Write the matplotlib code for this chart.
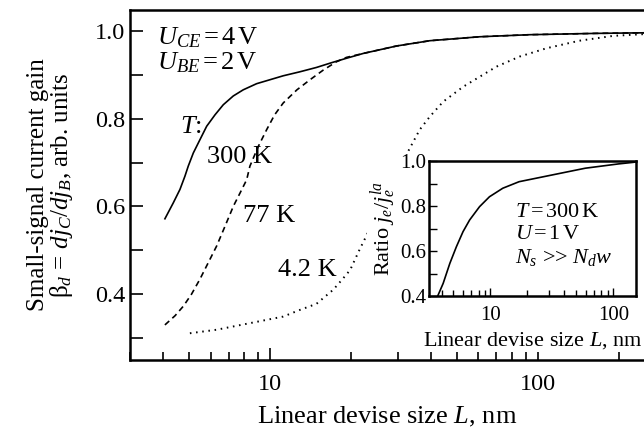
import matplotlib
matplotlib.use("Agg")
import matplotlib.pyplot as plt
from matplotlib.ticker import FixedLocator, NullFormatter, LogLocator, FormatStrFormatter
from matplotlib.patches import Rectangle

plt.rcParams["font.family"] = ["Liberation Serif", "DejaVu Serif"]
plt.rcParams["mathtext.fontset"] = "custom"
plt.rcParams["mathtext.rm"] = "Liberation Serif"
plt.rcParams["mathtext.it"] = "Liberation Serif:italic"
plt.rcParams["mathtext.bf"] = "Liberation Serif:bold"

# main plot data
L_300 = [4.05, 4.35, 4.61, 4.81, 4.95, 5.17, 5.47, 5.80, 6.23, 6.69, 7.29, 7.94,
         8.91, 9.99, 11.2, 12.9, 14.9, 17.0, 19.3, 22.3, 29.7, 39.5, 60.7, 93.3, 165, 249]
beta_300 = [0.572, 0.608, 0.639, 0.669, 0.692, 0.722, 0.752, 0.783, 0.809, 0.832, 0.852, 0.866,
            0.880, 0.889, 0.898, 0.907, 0.917, 0.928, 0.938, 0.949, 0.966, 0.978, 0.987, 0.9917, 0.9947, 0.996]

L_77 = [4.05, 4.42, 4.75, 5.09, 5.47, 5.88, 6.32, 6.79, 7.30, 7.73, 8.18, 8.41, 9.04,
        9.71, 10.4, 11.2, 12.6, 14.1, 15.8, 17.7, 19.3, 22.3, 29.7, 39.5, 60.7, 93.3, 165, 249]
beta_77 = [0.330, 0.351, 0.373, 0.400, 0.434, 0.472, 0.510, 0.555, 0.601, 0.631, 0.661, 0.692, 0.737,
           0.775, 0.809, 0.836, 0.866, 0.889, 0.911, 0.930, 0.940, 0.949, 0.966, 0.978, 0.987, 0.9917, 0.9947, 0.996]

L_4 = [5.02, 6.32, 8.41, 11.2, 12.9, 14.9, 17.2, 18.5, 19.9, 21.6, 32.8, 36.2, 39.5,
       44.3, 52.6, 60.7, 70.1, 85.6, 108, 143, 191, 249]
beta_4 = [0.311, 0.319, 0.334, 0.349, 0.364, 0.378, 0.410, 0.432, 0.455, 0.502, 0.726, 0.775, 0.805,
          0.839, 0.873, 0.896, 0.919, 0.942, 0.961, 0.978, 0.989, 0.993]

# inset data
L_in = [3.72, 4.12, 4.67, 5.28, 5.98, 6.77, 8.15, 9.81, 12.6, 17.1, 31.8, 59.2, 110, 145, 153]
ratio_in = [0.40, 0.456, 0.545, 0.619, 0.686, 0.738, 0.797, 0.841, 0.879, 0.908, 0.938, 0.968,
            0.987, 0.994, 0.996]

fig = plt.figure(figsize=(6.44, 4.33), dpi=100)
ax = fig.add_axes([130 / 644, 1 - 360 / 433, 1 - 130 / 644, 350 / 433])

ax.plot(L_300, beta_300, "k-", lw=1.2)
ax.plot(L_77, beta_77, "k", lw=1.2, dashes=(3.5, 2.5))
ax.plot(L_4, beta_4, "k", lw=1.4, dashes=(0.8, 2.4))

ax.set_xscale("log")
ax.set_xlim(3.0, 249)
ax.set_ylim(0.25, 1.048)
ax.set_yticks([0.4, 0.6, 0.8, 1.0])
ax.yaxis.set_minor_locator(FixedLocator([0.3, 0.5, 0.7, 0.9]))
ax.yaxis.set_major_formatter(FormatStrFormatter("%.1f"))
ax.xaxis.set_major_locator(FixedLocator([10, 100]))
ax.xaxis.set_major_formatter(FormatStrFormatter("%d"))
ax.xaxis.set_minor_locator(LogLocator(base=10, subs=range(2, 10)))
ax.xaxis.set_minor_formatter(NullFormatter())
ax.tick_params(which="both", direction="in", labelsize=17.5, width=1.2, length=9)
ax.tick_params(axis="x", which="minor", length=6)
ax.tick_params(axis="x", pad=10)
ax.spines["right"].set_visible(False)
for s in ["left", "top", "bottom"]:
    ax.spines[s].set_linewidth(1.8)

ax.set_xlabel("Linear devise size $L$, nm", fontsize=19, labelpad=7)
ax.set_ylabel("Small-signal current gain\n$\\mathrm{\\beta}_d\\,=\\,dj_C/dj_B$, arb. units",
              fontsize=18, linespacing=0.95, labelpad=14)

ax.text(0.052, 0.956, "$U_{CE}$$\\,$=$\\,$4$\\,$V\n$U_{BE}$$\\,$=$\\,$2$\\,$V",
        transform=ax.transAxes, fontsize=19, va="top", linespacing=1.04)
ax.text(4.62, 0.768, "$T$:", fontsize=19)
ax.text(5.82, 0.70, "300 K", fontsize=19)
ax.text(7.93, 0.565, "77 K", fontsize=19)
ax.text(10.7, 0.441, "4.2 K", fontsize=19)

# white backing behind the inset and its labels
fig.patches.append(Rectangle((367 / 644, 1 - 352 / 433), 277 / 644, 198 / 433,
                             transform=fig.transFigure, facecolor="white",
                             edgecolor="none", zorder=2))

axin = fig.add_axes([429 / 644, 1 - 296 / 433, 207 / 644, 135 / 433], zorder=3)
axin.plot(L_in, ratio_in, "k-", lw=1.2)
axin.set_xscale("log")
axin.set_xlim(3.16, 153)
axin.set_ylim(0.4, 1.0)
axin.set_yticks([0.4, 0.6, 0.8, 1.0])
axin.yaxis.set_minor_locator(FixedLocator([0.5, 0.7, 0.9]))
axin.yaxis.set_major_formatter(FormatStrFormatter("%.1f"))
axin.xaxis.set_major_locator(FixedLocator([10, 100]))
axin.xaxis.set_major_formatter(FormatStrFormatter("%d"))
axin.xaxis.set_minor_locator(LogLocator(base=10, subs=range(2, 10)))
axin.xaxis.set_minor_formatter(NullFormatter())
axin.tick_params(which="both", direction="in", labelsize=15, width=1.0, length=6)
axin.tick_params(axis="x", which="minor", length=4)
axin.tick_params(axis="x", pad=7)
axin.tick_params(axis="y", pad=2)
for s in axin.spines.values():
    s.set_linewidth(1.8)
axin.set_xlabel("Linear devise size $L$, nm", fontsize=16, labelpad=4)
axin.set_ylabel("Ratio $j_e/j_e^{la}$", fontsize=16, labelpad=1)
axin.text(0.415, 0.69, "$T$$\\,$=$\\,$300$\\,$K\n$U$$\\,$=$\\,$1$\\,$V\n$N_s$ >> $N_d w$",
          transform=axin.transAxes, fontsize=16, va="top", linespacing=1.22)

fig.savefig("out.png", dpi=100)
